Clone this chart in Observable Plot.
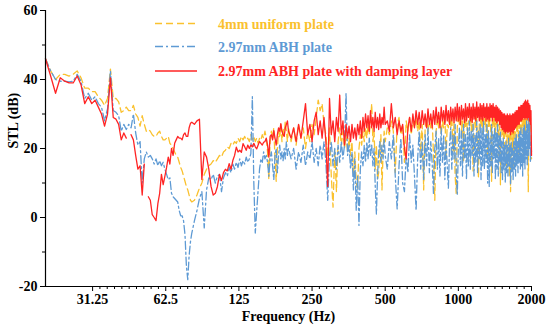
<!DOCTYPE html>
<html><head><meta charset="utf-8">
<script src="https://cdn.jsdelivr.net/npm/d3@7"></script>
<script src="https://cdn.jsdelivr.net/npm/@observablehq/plot@0.6"></script>
<style>
body{margin:0;background:#fff;}
#wrap{position:relative;width:550px;height:328px;}
#legend{position:absolute;left:0;top:0;pointer-events:none;}
</style></head><body><div id="wrap"></div>
<script>
// Frequency sample grid (Hz)
const freqLow = d3.range(20, 81, 1);      // 61
const freqMid = d3.range(82, 201, 2);     // 60
const freqHigh = d3.range(205, 501, 5);   // 60
const freqTop = d3.range(510, 2001, 10);  // 150
const freq = [...freqLow, ...freqMid, ...freqHigh, ...freqTop];

// 4mm uniform plate (dB)
const uniformLow = [46,42.5,40,41.5,41.5,41,41.5,42.5,40.5,37.5,
 37.5,36.5,36.5,35,34,32.5,34.5,43,34.5,34.5,
 33.5,30.5,31,32,31,31,32.5,30,29,26.5,
 29.5,27,25,25.5,25,24,23.5,23.5,24.5,25,
 23.5,22.5,22.5,23,23.5,21.5,21,20,19,18,
 17.5,16,14.5,13.5,12,10.5,9,8,6.5,5,
 4.5];
const uniformMid = [5,6.5,8.5,10,12.5,14,15,15.5,16.5,16,
 17,18,17.5,19,19.5,20.5,20,21.5,21,22,
 21.5,23,22,23.5,22.5,23.5,22.5,23,22,24,
 22.5,23.5,22,23,21.5,23,22.5,24,23,25,
 23,19,11,22,25,23,26,17,10.5,20,
 25,23,27,22,26,24,28,25,22,26];
const uniformHigh = [22,26,21,27,23,26,20,25,22,27,
 24,29,34,31,33,27,24,18,26,12,
 3,20,7.5,22,26,21,25,20,24,19,
 23,18,22,12,19,10,8.5,20,24,21,
 25,22,26,23,27,24,28,33,22,25,
 14,21,11,13,20,24,8,19,25,22];
const uniformTop = [26,24,28,25,13,27,29,24,27,16,
 28,25,29,24,28,26,29,25,28,19,
 27,8,26,29,25,28,26,29,18,5,
 25,29,26,30,24,28,26,30,17,27,
 26,30,26,29,19,28,12,7,26,30,
 27,30,25,28,16,29,26,30,24,28,
 27,30,25,29,13.5,27,30,26,30,18,
 11.5,28,30,26,29,24,29,27,30,25,
 29,17,29,26,30,25,10.5,28,29,26,
 30,24,28,26,29,18,27,25,9.5,26,
 27,24,26,16,26,24,27,14,26,23,
 26,12,25,7.5,24,26,18,26,15,25,
 25,27,17,27,25,28,16,28,26,29,
 24,29,26,30,18,29,26,30,25,29,
 27,31,26,7.5,28,30,26,29,24,17];

// 2.97mm ABH plate (dB)
const abhLow = [46,42.5,40,39.5,39.5,39.3,39.5,41.5,39.5,34.5,
 36,34,35,33,32,28,31.5,42.5,31,30.5,
 29.5,25,27,25.5,27,26,30,24.5,21,22,
 10,17,19,17.5,18,17,15.5,17,15,16.5,
 15,16,14,12.5,11,11.5,7,6,5.5,5,
 4.5,2,0.5,0.5,-1,-5,-14,-18,-11,-7,
 -4.5];
const abhMid = [-1,2,5.5,7.5,-3,8,11.5,11,12.5,10,
 12,12.5,7.5,11.5,13,12,14.5,13,15.5,14,
 16,14.5,17,15,16.5,15.5,17.5,16,17,18.5,
 35,10,-4.5,2,8,14,17,16,19,17,
 18,16,12,17,19,15,11,18,20,13,
 18,21,17,19,16.5,20,17,22,18,20];
const abhHigh = [17,20,14,19,16,21,15,19,17,22,
 16,20,15,21,17,22,16,5,18,22,
 15,20,14,21,16,22,17,21,36,18,
 21,14,19,8,17,2,12,-2.3,14,19,
 15,21,16,22,17,23,18,21,15,20,
 9,1,12,19,22,16,21,17,23,18];
const abhTop = [14,22,17,24,12,2.5,15,23,10,7.5,
 18,13,24,16,21,12,2,17,25,14,
 22,11,24,15,26,13,22,16,7,20,
 25,14,23,12,26,16,24,11,22,15,
 8.5,21,26,14,24,17,27,13,6.5,20,
 26,15,25,12,27,17,24,11,26,15,
 28,14,25,18,27,12,24,16,28,13,
 25,17,27,11,26,15,28,14,24,16,
 27,10,25,9,23,15,27,13,24,17,
 26,11,25,14,27,12,24,16,25,13,
 22,11,23,14,21,10,22,13,21,12,
 23,15,21,9.5,22,13,20,11,22,14,
 23,12,24,15,22,13,24,16,25,14,
 26,15,24,12,26,16,27,14,25,17,
 28,15,27,18,29.5,20,27,16,22,19];

// 2.97mm ABH plate with damping layer (dB)
const dampLow = [46,41,36,40.5,39.5,39,39,41,38.5,33,
 35,33,34,32,30,26.5,30,40.5,29,28.5,
 27,22.5,24.5,23,null,24,22.5,18,14,15,
 6.5,15.5,null,6,5,0.8,0,-0.9,4,7,
 12.5,9.5,12,14.5,17.5,15.5,20,18,21.5,22.5,
 23.5,23,23,22.5,24,24.5,23.5,23.5,26,27.3,
 27.6];
const dampMid = [27,28,28.5,11,19,17.5,14,9,6.5,7,
 9,12.5,10.7,13,14,13.5,15.6,14,16.5,18,
 20.4,19,19.5,18.9,21.4,20.5,19.5,21,20,21,
 20.5,21.5,20.5,19.9,21,22,21.5,21,21.8,22,
 23,21,17.5,23.5,24,22.5,25.2,23,21,24,
 26,25,27.2,25,24,23.5,26,27,28,25];
const dampHigh = [23,26,22,27,23,28,33,24,27,22,
 28,30.5,24,28,23,29,22,9,34.5,24,
 28,22,29,25,35.5,24,28,21,27,23,
 26.5,22,27,23,26,22.5,27,24,28,23,
 29,25,30,26,29.5,25,31,26,29,25,
 30.5,26,29,25.5,30,26,29,27,32,27];
const dampTop = [28,25,33,26,29,24,28,25,27,20,
 17,26,29,25,30,26,31,27,30.5,26,
 31,27,30,26,31.5,27,30,26,31,27,
 32,27.5,30.5,26,32,28,31,27,32.5,28,
 31,27,32,28,31.5,27.5,32,28,33,28,
 32,27,32.5,28.5,31.5,27.5,33,28,32,29,
 33,28,32,27.5,33,28.5,32,28,33.5,29,
 32,28,33,28.5,32.5,28,33,29,32,28,
 33,28.5,32,28,33,29,32.5,28,33,29,
 32,28,32.5,27.5,32,28,31.5,27,31,26,
 30.5,25.5,30,25,30,24.5,29.5,25,30,24.5,
 29.5,25,30,24,29.5,25,30,24.5,30,25.5,
 30.5,26,31,26.5,31,27,32,27,32,28,
 32.5,28,32.5,28.5,33,29,33.5,28.5,34,29,
 33.5,28.5,34,29,33,28,32.5,27,31,18];

const seriesNames = ["4mm uniform plate", "2.97mm ABH plate", "2.97mm ABH plate with damping layer"];
const seriesColors = ["#FAC12E", "#5E9AD4", "#FF2424"];
const seriesDash = ["7,4", "8,3,2,3", null];

const xDomain = [20, 2000];
const yDomain = [-20, 60];
const xMajorTicks = [31.25, 62.5, 125, 250, 500, 1000, 2000];
const xMajorLabels = ["31.25", "62.5", "125", "250", "500", "1000", "2000"];
const yMajorTicks = [-20, 0, 20, 40, 60];
const yMinorTicks = [-10, 10, 30, 50];
const xMinorTicks = d3.range(1, 60).filter(k => k % 10 !== 0).map(k => 31.25 * Math.pow(2, k / 10));

const uniform = [...uniformLow, ...uniformMid, ...uniformHigh, ...uniformTop];
const abh = [...abhLow, ...abhMid, ...abhHigh, ...abhTop];
const damp = [...dampLow, ...dampMid, ...dampHigh, ...dampTop];
const toRows = vals => freq.map((f, i) => ({f, v: vals[i]}));
const tables = [toRows(uniform), toRows(abh), toRows(damp)];
const xTickRows = xMajorTicks.map((t, i) => ({t, label: xMajorLabels[i]}));

const font = "'Liberation Serif', 'DejaVu Serif', serif";
const lineMark = (idx) => Plot.line(tables[idx], {
  x: "f", y: "v", stroke: seriesColors[idx], strokeWidth: 1.3,
  strokeDasharray: seriesDash[idx] || undefined, curve: "linear"
});

const chart = Plot.plot({
  width: 550, height: 328,
  marginTop: 10, marginRight: 19, marginBottom: 42, marginLeft: 45,
  style: {fontFamily: font, fontWeight: "bold", fontSize: "14px", background: "#fff", color: "#000"},
  x: {type: "log", domain: xDomain},
  y: {domain: yDomain},
  marks: [
    lineMark(0),
    lineMark(1),
    lineMark(2),
    Plot.ruleX([xDomain[0]], {stroke: "#000", strokeWidth: 1.2}),
    Plot.ruleY([yDomain[0]], {stroke: "#000", strokeWidth: 1.2}),
    Plot.axisY({ticks: yMajorTicks, tickSize: 5, tickPadding: 3, label: null, tickFormat: d => String(d)}),
    Plot.axisY({ticks: yMinorTicks, tickSize: 3, label: null, tickFormat: () => ""}),
    Plot.axisX({ticks: xMinorTicks, tickSize: 3, label: null, tickFormat: () => ""}),
    Plot.axisX({ticks: xMajorTicks, tickSize: 5, label: null, tickFormat: () => ""}),
    Plot.text(xTickRows, {x: "t", text: "label", frameAnchor: "bottom", dy: 17, fontWeight: "bold", fontSize: 14, fill: "#000"}),
    Plot.text(["Frequency (Hz)"], {frameAnchor: "bottom", dy: 34, fontWeight: "bold", fontSize: 14}),
    Plot.text(["STL (dB)"], {frameAnchor: "left", dx: -32, rotate: -90, fontWeight: "bold", fontSize: 14})
  ]
});
const wrap = document.getElementById("wrap");
wrap.appendChild(chart);

// Legend overlay
const ns = "http://www.w3.org/2000/svg";
const leg = document.createElementNS(ns, "svg");
leg.setAttribute("id", "legend");
leg.setAttribute("width", 550);
leg.setAttribute("height", 90);
const rowY = [23.5, 46.5, 71];
seriesNames.forEach((name, i) => {
  const ln = document.createElementNS(ns, "line");
  ln.setAttribute("x1", 155); ln.setAttribute("x2", 197);
  ln.setAttribute("y1", rowY[i]); ln.setAttribute("y2", rowY[i]);
  ln.setAttribute("stroke", seriesColors[i]);
  ln.setAttribute("stroke-width", 1.5);
  if (seriesDash[i]) ln.setAttribute("stroke-dasharray", seriesDash[i]);
  leg.appendChild(ln);
  const t = document.createElementNS(ns, "text");
  t.setAttribute("x", 218); t.setAttribute("y", rowY[i] + 5);
  t.setAttribute("fill", seriesColors[i]);
  t.setAttribute("font-family", font);
  t.setAttribute("font-weight", "bold");
  t.setAttribute("font-size", 14);
  t.textContent = name;
  leg.appendChild(t);
});
wrap.appendChild(leg);
</script></body></html>
